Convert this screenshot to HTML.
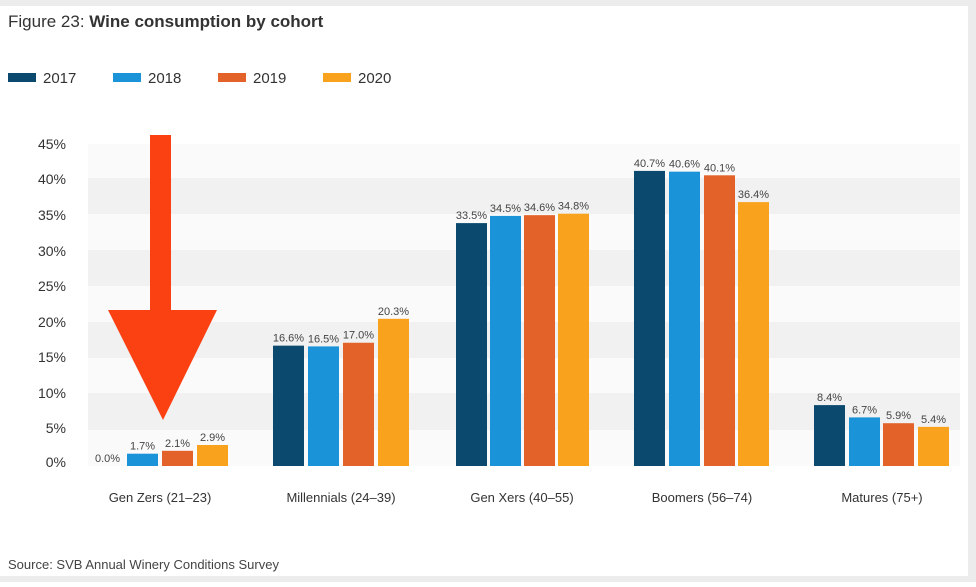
<!DOCTYPE html>
<html><head><style>
body{margin:0;width:976px;height:582px;background:#fff;overflow:hidden;font-family:"Liberation Sans",sans-serif;}
</style></head><body>
<svg width="976" height="582" xmlns="http://www.w3.org/2000/svg" font-family="Liberation Sans, sans-serif">
<rect x="0" y="0" width="976" height="6" fill="#ececec"/>
<rect x="0" y="576" width="976" height="6" fill="#ececec"/>
<rect x="968" y="0" width="8" height="582" fill="#ececec"/>
<text x="8" y="27" font-size="17" fill="#333">Figure 23: <tspan font-weight="bold">Wine consumption by cohort</tspan></text>
<rect x="8" y="73" width="28" height="9" fill="#0b4a6e"/><text x="43" y="83" font-size="15" fill="#333">2017</text>
<rect x="113" y="73" width="28" height="9" fill="#1b93d9"/><text x="148" y="83" font-size="15" fill="#333">2018</text>
<rect x="218" y="73" width="28" height="9" fill="#e2622a"/><text x="253" y="83" font-size="15" fill="#333">2019</text>
<rect x="323" y="73" width="28" height="9" fill="#f8a21e"/><text x="358" y="83" font-size="15" fill="#333">2020</text>
<rect x="88" y="144" width="872" height="322" fill="#fafafa"/>
<rect x="88" y="178" width="872" height="36" fill="#f1f1f1"/>
<rect x="88" y="250" width="872" height="36" fill="#f1f1f1"/>
<rect x="88" y="322" width="872" height="36" fill="#f1f1f1"/>
<rect x="88" y="393" width="872" height="37" fill="#f1f1f1"/>
<g font-size="14" fill="#333" text-anchor="end">
<text x="66" y="149">45%</text><text x="66" y="184">40%</text><text x="66" y="220">35%</text><text x="66" y="256">30%</text><text x="66" y="291">25%</text><text x="66" y="327">20%</text><text x="66" y="362">15%</text><text x="66" y="398">10%</text><text x="66" y="433">5%</text><text x="66" y="467">0%</text>
</g>
<g>
<rect x="127" y="453.7" width="31" height="12.3" fill="#1b93d9"/>
<rect x="162" y="450.8" width="31" height="15.2" fill="#e2622a"/>
<rect x="197" y="445" width="31" height="21" fill="#f8a21e"/>
<rect x="273" y="345.65" width="31" height="120.35" fill="#0b4a6e"/>
<rect x="308" y="346.4" width="31" height="119.6" fill="#1b93d9"/>
<rect x="343" y="342.75" width="31" height="123.25" fill="#e2622a"/>
<rect x="378" y="318.8" width="31" height="147.2" fill="#f8a21e"/>
<rect x="456" y="223.1" width="31" height="242.9" fill="#0b4a6e"/>
<rect x="490" y="215.9" width="31" height="250.1" fill="#1b93d9"/>
<rect x="524" y="215.15" width="31" height="250.85" fill="#e2622a"/>
<rect x="558" y="213.7" width="31" height="252.3" fill="#f8a21e"/>
<rect x="634" y="170.9" width="31" height="295.1" fill="#0b4a6e"/>
<rect x="669" y="171.65" width="31" height="294.35" fill="#1b93d9"/>
<rect x="704" y="175.3" width="31" height="290.7" fill="#e2622a"/>
<rect x="738" y="202.1" width="31" height="263.9" fill="#f8a21e"/>
<rect x="814" y="405.1" width="31" height="60.9" fill="#0b4a6e"/>
<rect x="849" y="417.4" width="31" height="48.6" fill="#1b93d9"/>
<rect x="883" y="423.2" width="31" height="42.8" fill="#e2622a"/>
<rect x="918" y="426.85" width="31" height="39.15" fill="#f8a21e"/>
</g>
<g font-size="11" fill="#444" text-anchor="middle">
<text x="107.5" y="462">0.0%</text><text x="142.5" y="449.7">1.7%</text><text x="177.5" y="446.8">2.1%</text><text x="212.5" y="441">2.9%</text>
<text x="288.5" y="341.6">16.6%</text><text x="323.5" y="342.4">16.5%</text><text x="358.5" y="338.7">17.0%</text><text x="393.5" y="314.8">20.3%</text>
<text x="471.5" y="219.1">33.5%</text><text x="505.5" y="211.9">34.5%</text><text x="539.5" y="211.1">34.6%</text><text x="573.5" y="209.7">34.8%</text>
<text x="649.5" y="166.9">40.7%</text><text x="684.5" y="167.6">40.6%</text><text x="719.5" y="171.3">40.1%</text><text x="753.5" y="198.1">36.4%</text>
<text x="829.5" y="401.1">8.4%</text><text x="864.5" y="413.4">6.7%</text><text x="898.5" y="419.2">5.9%</text><text x="933.5" y="422.8">5.4%</text>
</g>
<g font-size="13" fill="#333" text-anchor="middle">
<text x="160" y="502">Gen Zers (21–23)</text>
<text x="341" y="502">Millennials (24–39)</text>
<text x="522" y="502">Gen Xers (40–55)</text>
<text x="702" y="502">Boomers (56–74)</text>
<text x="882" y="502">Matures (75+)</text>
</g>
<text x="8" y="569" font-size="13" fill="#444">Source: SVB Annual Winery Conditions Survey</text>
<rect x="150" y="135" width="21" height="177" fill="#fb4012"/>
<polygon points="108,310 217,310 163,420" fill="#fb4012"/>
</svg>
</body></html>
